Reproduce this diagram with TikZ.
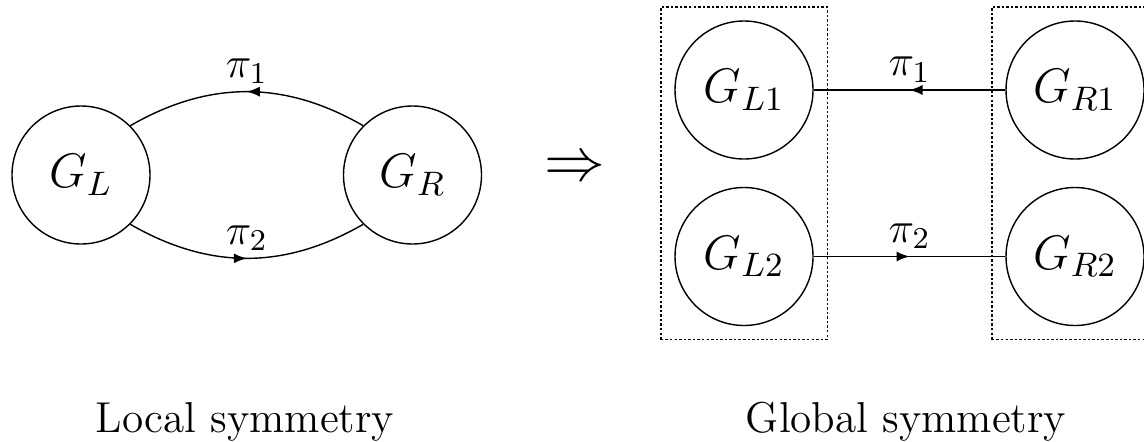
\documentclass[tikz,border=0pt]{standalone}
\usepackage{fix-cm}
\usepackage{amsmath}
\usetikzlibrary{positioning,arrows.meta,fit,decorations.markings}

\begin{document}
\begin{tikzpicture}[
  every node/.style={font=\fontsize{12.3}{15}\selectfont},
  grp/.style={draw, circle, minimum size=13.8mm, inner sep=0pt,
              font=\fontsize{13.8}{16}\selectfont},
  box/.style={draw, dash pattern=on 0.7pt off 0.6pt, inner sep=1.35mm},
  midarr/.style={postaction={decorate}, decoration={markings,
      mark=at position 0.5 with {\arrow{Latex[length=1.3mm,width=1mm]}}}},
  lab/.style={above, inner sep=2pt},
  caption/.style={anchor=base},
]
\clip (0,0) rectangle (11.44,4.41);

% ====== Left: local symmetry ======
\node[grp] (GL) at (0.81,2.66) {$G_L$};
\node[grp] (GR) at (4.125,2.66) {$G_R$};
\draw[midarr] (GR.135) to[out=150,in=30] node[lab] {$\pi_1$} (GL.45);
\draw[midarr] (GL.-45) to[out=-30,in=-150] node[lab] {$\pi_2$} (GR.-135);
\node[caption] (loc) at (2.45,0.09) {Local symmetry};

% implication
\node[font=\fontsize{17.3}{20}\selectfont] (impl) at (5.75,2.72) {$\Rightarrow$};

% ====== Right: global symmetry ======
\node[grp] (GL1) at (7.44,3.51) {$G_{L1}$};
\node[grp] (GL2) at (7.44,1.845) {$G_{L2}$};
\node[grp] (GR1) at (10.75,3.51) {$G_{R1}$};
\node[grp] (GR2) at (10.75,1.845) {$G_{R2}$};
\node[box, fit=(GL1)(GL2)] (boxL) {};
\node[box, fit=(GR1)(GR2)] (boxR) {};
\draw[midarr] (GR1) -- node[lab] {$\pi_1$} (GL1);
\draw[midarr] (GL2) -- node[lab] {$\pi_2$} (GR2);
\node[caption] (glob) at (9.06,0.09) {Global symmetry};

\end{tikzpicture}
\end{document}
